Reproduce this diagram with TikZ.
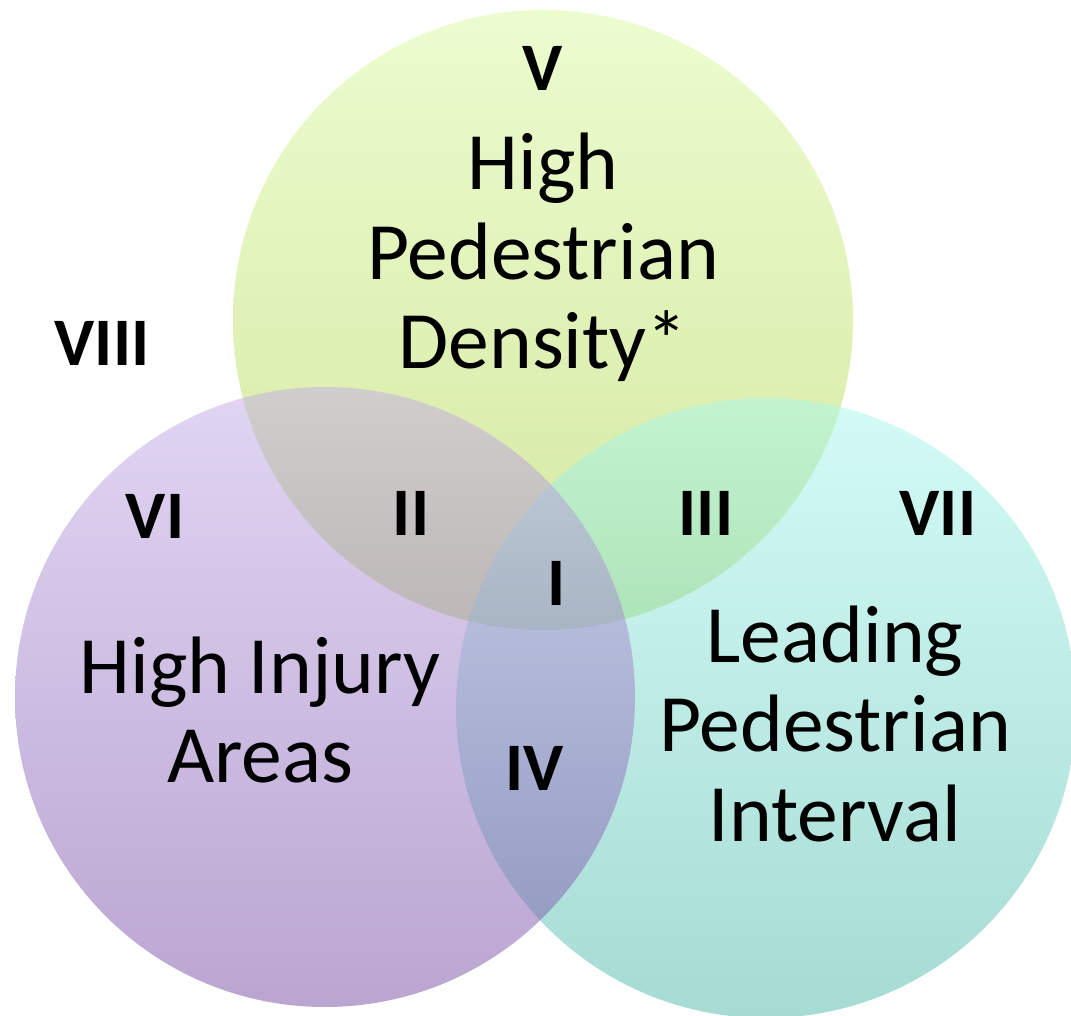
\documentclass[tikz,border=0pt]{standalone}
\usepackage{fontspec}
\setmainfont{Carlito}
\definecolor{gtop}{RGB}{217,251,161}
\definecolor{gbot}{RGB}{173,209,65}
\definecolor{ptop}{RGB}{196,173,233}
\definecolor{pbot}{RGB}{119,77,165}
\definecolor{ttop}{RGB}{169,249,237}
\definecolor{tbot}{RGB}{77,185,169}
\begin{document}
\begin{tikzpicture}[x=1pt,y=-1pt,
  venn/.style={circle, minimum size=620pt, inner sep=0pt, fill opacity=0.5},
  numeral/.style={font=\fontsize{68}{80}\selectfont\bfseries, anchor=base, inner sep=0pt},
  setlabel/.style={font=\fontsize{81.5}{89.5}\selectfont, anchor=base, inner sep=0pt}]
\useasboundingbox (0,0) rectangle (1071,1016);
\fill[white] (0,0) rectangle (1071,1016);
\node[venn, top color=gtop, bottom color=gbot] (green) at (543,320) {};
\node[venn, top color=ttop, bottom color=tbot] (teal) at (766,708) {};
\node[venn, top color=ptop, bottom color=pbot] (purple) at (325,697) {};
\node[setlabel] (hpd) at (543,190) {\begin{tabular}[t]{@{}c@{}}High\\Pedestrian\\Density*\end{tabular}};
\node[setlabel] (hia) at (260,693) {\begin{tabular}[t]{@{}c@{}}High Injury\\Areas\end{tabular}};
\node[setlabel] (lpi) at (835,662) {\begin{tabular}[t]{@{}c@{}}Leading\\Pedestrian\\Interval\end{tabular}};
\node[numeral] (n5) at (543,91) {V};
\node[numeral] (n8) at (102,365) {VIII};
\node[numeral] (n6) at (155,538) {VI};
\node[numeral] (n2) at (411,535) {II};
\node[numeral] (n3) at (706,535) {III};
\node[numeral] (n7) at (938,535) {VII};
\node[numeral] (n1) at (557,605) {I};
\node[numeral] (n4) at (535,790) {IV};
\end{tikzpicture}
\end{document}
